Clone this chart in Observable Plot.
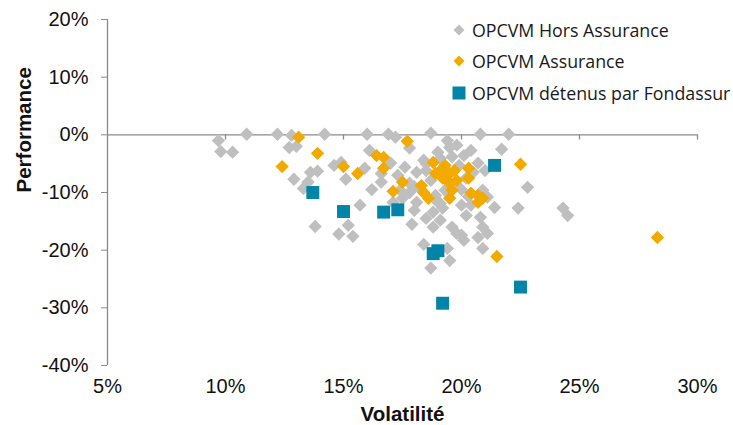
<!DOCTYPE html>
<html><head><meta charset="utf-8">
<script src="https://cdn.jsdelivr.net/npm/d3@7"></script>
<script src="https://cdn.jsdelivr.net/npm/@observablehq/plot@0.6"></script>
<style>
body{margin:0;background:#fff;}
#wrap{position:relative;width:733px;height:425px;}
#legend{position:absolute;left:452px;top:14px;font-family:"Open Sans",sans-serif;font-size:17.8px;color:#1a1a1a;}
#legend div{display:flex;align-items:center;height:31.5px;white-space:nowrap;}
#legend svg{margin-right:6px;}
</style></head>
<body><div id="wrap"><div id="chart"></div>
<div id="legend">
<div><svg width="14" height="14"><path d="M7 1.5L12.5 7L7 12.5L1.5 7Z" fill="#bfbfbf"/></svg>OPCVM Hors Assurance</div>
<div><svg width="14" height="14"><path d="M7 1.5L12.5 7L7 12.5L1.5 7Z" fill="#f2aa00"/></svg>OPCVM Assurance</div>
<div><svg width="14" height="14"><rect x="0.5" y="0.5" width="13" height="13" fill="#0084a8"/></svg>OPCVM détenus par Fondassur</div>
</div></div>
<script>
const seriesNames = ["OPCVM Hors Assurance", "OPCVM Assurance", "OPCVM détenus par Fondassur"];
const horsX = [9.7,9.8,10.3,10.9,12.2,12.8,12.7,13.0,12.9,13.6,13.9,13.5,13.3,14.2,14.6,14.9,15.1,13.8,15.2,14.8,15.4,15.7,15.9,16.0,16.1,16.9,17.2,17.0,16.6,16.6,17.8,17.9,18.7,19.4,19.5,20.8,22.0,21.7,22.8,22.4,24.3,24.5,20.1,20.7,21.0,20.2,20.9,21.1,21.4,20.2,20.8,19.6,20.0,20.9,21.1,19.1,18.8,19.8,20.1,18.4,19.4,19.5,18.7,20.9,20.7,18.4,18.1,18.5,19.0,19.1,19.9,17.8,17.8,17.5,17.1,18.1,19.0,19.2,20.0,20.4,18.8,18.3,19.3,19.8,18.7,18.0,20.4,19.8,17.3,17.4,18.5,19.1,18.5,19.3,20.0,18.9,20.5,17.6,19.6,20.3,18.0,16.2];
const horsY = [-1.0,-2.9,-3.0,0.1,0.1,-0.1,-2.2,-2.0,-7.7,-6.5,-6.3,-8.2,-9.3,0.1,-5.3,-4.8,-7.7,-15.9,-15.7,-17.2,-17.6,-12.2,-5.8,0.1,-2.7,0.1,-0.4,-4.9,-6.7,-8.2,-2.3,-15.5,0.3,-1.0,-2.2,0.1,0.1,-2.5,-9.1,-12.7,-12.7,-14.0,-3.6,-4.9,-6.2,-7.5,-9.6,-10.8,-12.6,-14.0,-14.3,-16.0,-17.4,-16.0,-17.1,-11.9,-16.0,-17.1,-18.3,-19.0,-19.7,-21.8,-23.1,-19.7,-17.8,-4.4,-6.5,-6.2,-3.0,-4.1,-5.3,-8.4,-10.0,-11.0,-11.7,-11.7,-11.7,-12.7,-12.2,-12.2,-13.4,-9.6,-9.6,-8.8,-7.9,-13.1,-2.7,-1.8,-7.0,-9.6,-14.5,-14.8,-5.0,-7.5,-9.5,-10.5,-6.5,-5.6,-3.8,-10.7,-9.0,-9.5];
const assurX = [12.4,13.1,13.9,15.0,15.6,16.4,16.7,16.7,17.7,17.5,17.1,18.8,18.9,19.1,19.5,19.7,18.3,18.4,18.6,19.5,19.6,19.5,19.8,20.3,20.3,20.4,20.7,20.7,20.9,19.2,19.3,22.5,21.5,28.3];
const assurY = [-5.5,-0.4,-3.2,-5.5,-6.7,-3.6,-3.9,-5.8,-1.1,-8.2,-9.8,-4.8,-6.7,-6.2,-6.7,-6.2,-8.8,-10.0,-11.0,-8.4,-9.6,-11.0,-7.9,-5.8,-7.5,-10.1,-10.5,-11.7,-11.0,-7.5,-5.3,-5.1,-21.1,-17.8];
const fondX = [13.7,15.0,16.7,17.3,18.8,19.0,19.2,21.4,22.5];
const fondY = [-10.0,-13.3,-13.4,-13.0,-20.6,-20.1,-29.2,-5.3,-26.4];
const xTicks = [5,10,15,20,25,30];
const yTicks = [-40,-30,-20,-10,0,10,20];

const toRows = (xs, ys, s) => xs.map((x, i) => ({x, y: ys[i], s}));
const hors = toRows(horsX, horsY, seriesNames[0]);
const assur = toRows(assurX, assurY, seriesNames[1]);
const fond = toRows(fondX, fondY, seriesNames[2]);
const pct = d => d + "%";
const axisColor = "#8a8a8a";

const chart = Plot.plot({
  width: 733, height: 425,
  marginLeft: 107, marginRight: 36, marginTop: 19, marginBottom: 60,
  style: {fontFamily: "'Liberation Sans', Arial, sans-serif", fontSize: "20px", color: "#111", background: "#fff"},
  x: {domain: [5, 30]},
  y: {domain: [-40, 20]},
  marks: [
    Plot.ruleY([0], {x1: 5, x2: 30, stroke: axisColor, strokeWidth: 1.3}),
    Plot.ruleX(xTicks.slice(1), {x: d => d, y1: 0, y2: -0.9, stroke: axisColor, strokeWidth: 1.3}),
    Plot.ruleX([5], {y1: -40, y2: 20, stroke: axisColor, strokeWidth: 1.3}),
    Plot.axisY({ticks: yTicks, tickFormat: pct, tickSize: 6, tickPadding: 13, stroke: axisColor, label: null}),
    Plot.axisX({ticks: xTicks, tickFormat: pct, tickSize: 0, tickPadding: 13, label: null}),
    Plot.text(["Volatilité"], {frameAnchor: "bottom", dy: 55, fontWeight: "bold", fontSize: 20.5}),
    Plot.text(["Performance"], {frameAnchor: "left", dx: -83, rotate: -90, fontWeight: "bold", fontSize: 20.5}),
    Plot.dot(hors, {x: "x", y: "y", symbol: "diamond2", r: 6, fill: "#bfbfbf", stroke: null}),
    Plot.dot(assur, {x: "x", y: "y", symbol: "diamond2", r: 6, fill: "#f2aa00", stroke: null}),
    Plot.dot(fond, {x: "x", y: "y", symbol: "square", r: 7.3, fill: "#0084a8", stroke: null})
  ]
});
document.getElementById("chart").appendChild(chart);
</script></body></html>
